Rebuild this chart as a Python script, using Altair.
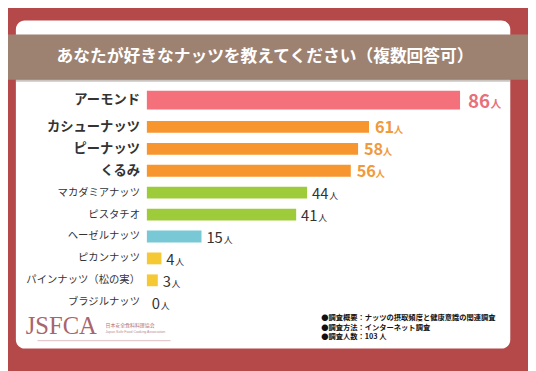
import altair as alt
import pandas as pd

nuts = ["アーモンド", "カシューナッツ", "ピーナッツ", "くるみ", "マカダミアナッツ",
        "ピスタチオ", "ヘーゼルナッツ", "ピカンナッツ", "パインナッツ（松の実）", "ブラジルナッツ"]
counts = [86, 61, 58, 56, 44, 41, 15, 4, 3, 0]
unit = "人"
title_text = "あなたが好きなナッツを教えてください（複数回答可）"
notes = ["●調査概要：ナッツの摂取頻度と健康意識の関連調査",
         "●調査方法：インターネット調査",
         "●調査人数：103 人"]
logo = "JSFCA"
logo_ja = "日本安全食料料理協会"
logo_en = "Japan Safe Food Cooking Association"

FONT = "Noto Sans CJK JP"
W, H = 528, 363

df = pd.DataFrame({"nut": nuts, "count": counts})
one = pd.DataFrame({"a": [0]})

grp_expr = ("datum.count >= 80 ? 'top' : datum.count >= 50 ? 'high' : "
            "datum.count >= 30 ? 'mid' : datum.count >= 10 ? 'hazel' : 'low'")
grp_dom = ["top", "high", "mid", "hazel", "low"]
grp_col = ["#f4707b", "#f7962f", "#9dcb3a", "#78c8d6", "#f4c934"]

base = alt.Chart(df).transform_calculate(grp=grp_expr)

X = alt.X("count:Q", axis=None,
          scale=alt.Scale(domain=[0, 86], range=[141, 459], nice=False, zero=True))
Y = alt.Y("nut:N", axis=None,
          scale=alt.Scale(domain=nuts, range=[84.6, 307.1], paddingInner=0, paddingOuter=0))
C = alt.Color("grp:N", legend=None, scale=alt.Scale(domain=grp_dom, range=grp_col))

# decorations
panel = alt.Chart(one).mark_rect(color="white", cornerRadius=9).encode(
    x=alt.value(8), x2=alt.value(510), y=alt.value(10), y2=alt.value(343))
shadow = alt.Chart(one).mark_rect(color="#8c7f78", opacity=0.45).encode(
    x=alt.value(8), x2=alt.value(510), y=alt.value(69), y2=alt.value(72))
band = alt.Chart(one).mark_rect(color="#9d8272").encode(
    x=alt.value(0), x2=alt.value(W), y=alt.value(24), y2=alt.value(70))
title = alt.Chart(one).mark_text(font=FONT, fontSize=17, fontWeight="bold", color="white",
                                 align="center", baseline="middle").encode(
    x=alt.value(261), y=alt.value(47), text=alt.value(title_text))

# bars
bars_top = base.transform_filter("datum.count >= 80").mark_bar(size=19, yOffset=-5).encode(
    x=X, y=Y, color=C)
bars_rest = base.transform_filter("datum.count < 80").mark_bar(size=12).encode(
    x=X, y=Y, color=C)

# category labels
lab_top = base.transform_filter("datum.count >= 80").mark_text(
    font=FONT, fontSize=13.5, fontWeight="bold", color="#333333", align="right",
    baseline="middle", dy=-5).encode(x=alt.value(134), y=Y, text="nut:N")
lab_high = base.transform_filter("datum.count >= 50 && datum.count < 80").mark_text(
    font=FONT, fontSize=13.5, fontWeight="bold", color="#333333", align="right",
    baseline="middle").encode(x=alt.value(134), y=Y, text="nut:N")
lab_low = base.transform_filter("datum.count < 50").mark_text(
    font=FONT, fontSize=10.5, color="#333333", align="right",
    baseline="middle").encode(x=alt.value(134), y=Y, text="nut:N")

# value labels
def vlabel(flt, size, weight, color, dx, dy, udx, usize):
    num = base.transform_filter(flt).mark_text(
        font=FONT, fontSize=size, fontWeight=weight, color=color, align="left",
        baseline="alphabetic", dx=dx, dy=dy).encode(x=X, y=Y, text="count:Q")
    u = base.transform_filter(flt).mark_text(
        font=FONT, fontSize=usize, fontWeight=weight, color=color, align="left",
        baseline="alphabetic", dx=dx + udx, dy=dy).encode(x=X, y=Y, text=alt.value(unit))
    return [num, u]

vals = []
vals += vlabel("datum.count >= 80", 19, "bold", "#e8707a", 8, 3.5, 23, 11)
vals += vlabel("datum.count >= 50 && datum.count < 80", 16.5, "bold", "#f09a3c", 6, 6, 19, 9.5)
vals += vlabel("datum.count >= 10 && datum.count < 50", 15, "normal", "#333333", 5, 6.5, 17.5, 9)
vals += vlabel("datum.count < 10", 15, "normal", "#333333", 5, 6.5, 9, 9)

# footnotes
note_layers = []
for i, (line, yy) in enumerate(zip(notes, [312.5, 322, 331.5])):
    note_layers.append(
        alt.Chart(one).mark_text(font=FONT, fontSize=7.4, fontWeight="bold", color="#111111",
                                 align="left", baseline="middle").encode(
            x=alt.value(318), y=alt.value(yy), text=alt.value(line)))

# logo
logo_t = alt.Chart(one).mark_text(font="Liberation Serif", fontSize=25, color="#a9646d",
                                  align="left", baseline="alphabetic").encode(
    x=alt.value(18), y=alt.value(328.5), text=alt.value(logo))
logo_j = alt.Chart(one).mark_text(font=FONT, fontSize=5, color="#b0707a",
                                  align="left", baseline="middle").encode(
    x=alt.value(99), y=alt.value(319), text=alt.value(logo_ja))
logo_e = alt.Chart(one).mark_text(font="Liberation Sans", fontSize=3.6, color="#b98a90",
                                  align="left", baseline="middle").encode(
    x=alt.value(99), y=alt.value(326), text=alt.value(logo_en))
logo_line = alt.Chart(one).mark_rule(color="#dcbcc0", strokeWidth=1).encode(
    x=alt.value(30), x2=alt.value(165), y=alt.value(335))

chart = alt.layer(
    panel, band, shadow, title,
    bars_rest, bars_top,
    lab_top, lab_high, lab_low,
    *vals,
    *note_layers, logo_t, logo_j, logo_e, logo_line,
).properties(
    width=W, height=H, autosize=alt.AutoSizeParams(type="none"), padding=0,
    background="#b5494a",
).configure_view(strokeWidth=0)

chart.save("out.html", embed_options={"renderer": "svg", "actions": False})
